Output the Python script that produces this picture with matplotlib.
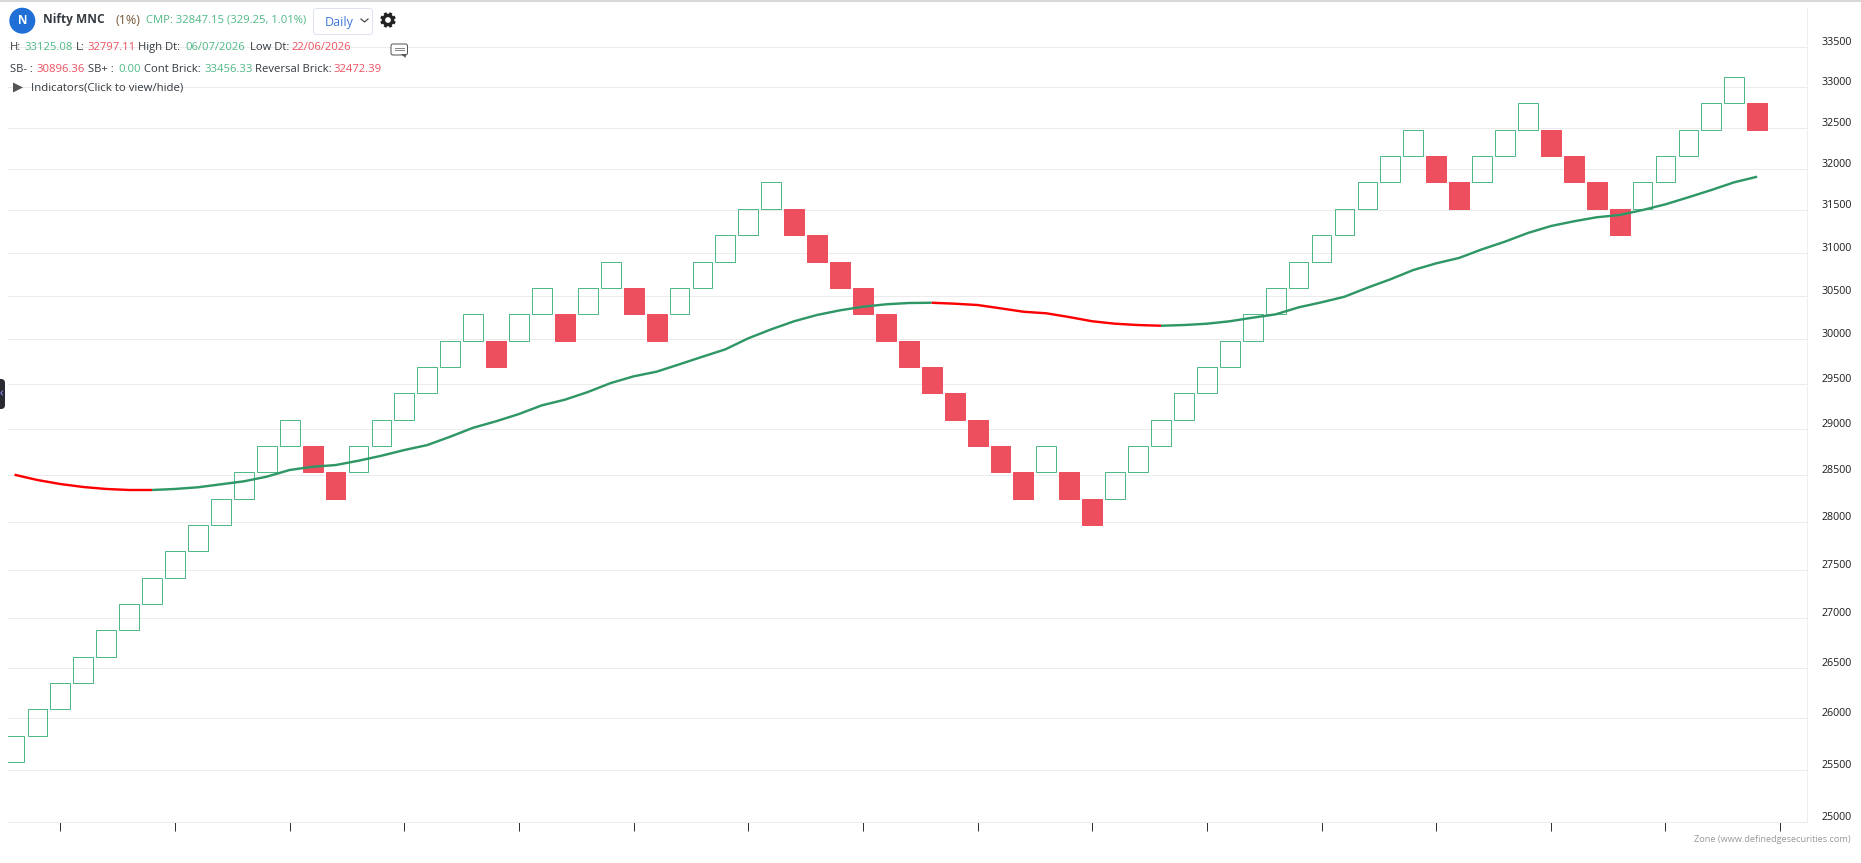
import math

import matplotlib
matplotlib.use('Agg')
from matplotlib import pyplot as plt
from matplotlib.patches import Circle, FancyBboxPatch, Polygon
from matplotlib.ticker import NullLocator
from matplotlib.transforms import ScaledTranslation

# renko brick edges, 1% apart, lowest first
price_levels = [25574.15, 25829.89, 26088.19, 26349.07, 26612.56, 26878.68, 27147.47, 27418.95,
                27693.14, 27970.07, 28249.77, 28532.27, 28817.59, 29105.77, 29396.83, 29690.80,
                29987.71, 30287.59, 30590.47, 30896.37, 31205.34, 31517.39, 31832.56, 32150.88,
                32472.39, 32797.11, 33125.08]

# index into price_levels of each brick's lower edge
brick_level = [0, 1, 2, 3, 4, 5, 6, 7, 8, 9, 10, 11, 12, 11, 10, 11, 12, 13, 14, 15,
               16, 15, 16, 17, 16, 17, 18, 17, 16, 17, 18, 19, 20, 21, 20, 19, 18, 17, 16, 15,
               14, 13, 12, 11, 10, 11, 10, 9, 10, 11, 12, 13, 14, 15, 16, 17, 18, 19, 20, 21,
               22, 23, 22, 21, 22, 23, 24, 23, 22, 21, 20, 21, 22, 23, 24, 25, 24]

# 1 = up (hollow green), 0 = down (solid red)
brick_up = [1, 1, 1, 1, 1, 1, 1, 1, 1, 1, 1, 1, 1, 0, 0, 1, 1, 1, 1, 1,
            1, 0, 1, 1, 0, 1, 1, 0, 0, 1, 1, 1, 1, 1, 0, 0, 0, 0, 0, 0,
            0, 0, 0, 0, 0, 1, 0, 0, 1, 1, 1, 1, 1, 1, 1, 1, 1, 1, 1, 1,
            1, 1, 0, 0, 1, 1, 1, 0, 0, 0, 0, 1, 1, 1, 1, 1, 0]

# moving average, one value per brick
ma_values = [28506, 28449, 28406, 28374, 28353, 28342, 28342, 28353, 28371, 28403,
             28435, 28485, 28557, 28592, 28610, 28657, 28711, 28773, 28827, 28918,
             29016, 29087, 29167, 29263, 29325, 29410, 29510, 29585, 29637, 29720,
             29805, 29888, 30013, 30115, 30207, 30279, 30332, 30373, 30401, 30416,
             30419, 30408, 30393, 30355, 30316, 30298, 30255, 30207, 30179, 30164,
             30156, 30164, 30179, 30207, 30248, 30286, 30366, 30424, 30488, 30592,
             30689, 30797, 30875, 30938, 31039, 31129, 31231, 31313, 31369, 31417,
             31444, 31503, 31571, 31655, 31742, 31835, 31902]
ma_breaks = [0, 6, 40, 50, 76]
ma_colors = ['#ff0000', '#2f9766', '#ff0000', '#2f9766']

y_ticks = [25000, 25500, 26000, 26500, 27000, 27500, 28000, 28500, 29000, 29500,
           30000, 30500, 31000, 31500, 32000, 32500, 33000, 33500]
x_ticks = [2, 7, 12, 17, 22, 27, 32, 37, 42, 47, 52, 57, 62, 67, 72, 77]

GREEN = '#4fb985'
RED = '#ee4f5f'
DARK = '#333a40'
W, H = 1861, 863
PX = 0.72

plt.rcParams['font.family'] = ['Open Sans', 'DejaVu Sans']

fig = plt.figure(figsize=(W / 100, H / 100), dpi=100, facecolor='white')
ax = fig.add_axes([8 / W, (H - 822.2) / H, (1806.7 - 8) / W, (822.2 - 8) / H])
ax.set_yscale('log')

lows = [price_levels[k] for k in brick_level]
highs = [price_levels[k + 1] for k in brick_level]
for i in range(len(brick_level)):
    if brick_up[i]:
        ax.bar(i, highs[i] - lows[i], bottom=lows[i], width=0.86, facecolor='none',
               edgecolor=GREEN, linewidth=1.0 * PX, zorder=2)
    else:
        ax.bar(i, highs[i] - lows[i], bottom=lows[i], width=0.87, facecolor=RED,
               edgecolor=RED, linewidth=1.0 * PX, zorder=2)

for j in range(len(ma_colors)):
    a, b = ma_breaks[j], ma_breaks[j + 1]
    ax.plot(range(a, b + 1), ma_values[a:b + 1], color=ma_colors[j], linewidth=2.4 * PX,
            solid_capstyle='butt', zorder=3)

ax.set_xlim(-0.283, 78.16)
ax.set_ylim(25000, 34001)
ax.set_yticks(y_ticks)
ax.set_yticklabels([str(v) for v in y_ticks])
ax.yaxis.set_minor_locator(NullLocator())
ax.yaxis.tick_right()
ax.set_xticks(x_ticks)
ax.set_xticklabels([])
ax.tick_params(axis='y', length=0, pad=15 * PX, labelsize=7.7, labelcolor='#1c1c1c')
ax.tick_params(axis='x', length=9 * PX, width=1 * PX, color='#333333')
# labels in the original sit a little above their grid line
for lbl in ax.get_yticklabels():
    lbl.set_transform(lbl.get_transform() + ScaledTranslation(0, 6 / 100, fig.dpi_scale_trans))
ax.grid(axis='y', color='#ebebeb', linewidth=1 * PX, zorder=0)
ax.set_axisbelow(True)
for side in ('top', 'left'):
    ax.spines[side].set_visible(False)
ax.spines['right'].set_color('#eeeeee')
ax.spines['bottom'].set_color('#ebebeb')
ax.spines['right'].set_linewidth(1 * PX)
ax.spines['bottom'].set_linewidth(1 * PX)

# page furniture, drawn in pixel coordinates
top = fig.add_axes([0, 0, 1, 1], facecolor='none')
top.set_xlim(0, W)
top.set_ylim(H, 0)
top.axis('off')

top.plot([0, W], [0.8, 0.8], color='#cccccc', linewidth=1.5 * PX)
top.add_patch(Circle((22.3, 20.7), 12.3, color='#1f6fd6'))
top.text(22.3, 20.7, 'N', color='white', fontsize=8.5, fontweight='bold', ha='center', va='center')
top.text(43.3, 20, 'Nifty MNC', color=DARK, fontsize=8.6, fontweight='bold', va='center')
top.text(115, 20, '(1%)', color='#7a5a3a', fontsize=9, va='center')
top.text(145.7, 20, 'CMP: 32847.15 (329.25, 1.01%)', color=GREEN, fontsize=8.15, va='center')

top.add_patch(FancyBboxPatch((316, 11), 54, 21, boxstyle='round,pad=2.5,rounding_size=3',
                             facecolor='white', edgecolor='#dde2ee', linewidth=1 * PX))
top.text(324.3, 22.5, 'Daily', color='#3d78d8', fontsize=9, va='center')
top.plot([361, 364.5, 368], [19, 22, 19], color='#444444', linewidth=1.2 * PX)

# settings gear: ring plus teeth
top.add_patch(Circle((388, 20), 4.6, facecolor='white', edgecolor='#222222', linewidth=3.4 * PX, zorder=3))
for n in range(8):
    ang = n * math.pi / 4 + math.pi / 8
    top.plot([388 + 5 * math.cos(ang), 388 + 7.8 * math.cos(ang)],
             [20 + 5 * math.sin(ang), 20 + 7.8 * math.sin(ang)],
             color='#222222', linewidth=3 * PX, solid_capstyle='butt', zorder=3)

top.add_patch(FancyBboxPatch((392.5, 45.5), 13.5, 8, boxstyle='round,pad=1.5,rounding_size=2',
                             facecolor='white', edgecolor='#555555', linewidth=1 * PX, zorder=3))
top.add_patch(Polygon([(401, 54), (406, 54), (405.5, 58)], facecolor='#555555', edgecolor='none', zorder=3))
top.plot([395, 404], [48, 48], color='#888888', linewidth=1 * PX, zorder=4)
top.plot([395, 404], [50.5, 50.5], color='#888888', linewidth=1 * PX, zorder=4)

row2 = [(10, 'H:', DARK), (24, '33125.08', GREEN), (75.5, 'L:', DARK), (87, '32797.11', RED),
        (138, 'High Dt:', DARK), (185, '06/07/2026', GREEN), (249.5, 'Low Dt:', DARK),
        (292, '22/06/2026', RED)]
row3 = [(10, 'SB- :', DARK), (36.7, '30896.36', RED), (88, 'SB+ :', DARK), (118.5, '0.00', GREEN),
        (143.5, 'Cont Brick:', DARK), (204, '33456.33', GREEN), (255, 'Reversal Brick:', DARK),
        (333, '32472.39', RED)]
for x, s, c in row2:
    top.text(x, 47.2, s, color=c, fontsize=8.15, va='center')
for x, s, c in row3:
    top.text(x, 69.3, s, color=c, fontsize=8.15, va='center')

top.add_patch(Polygon([(13, 82.5), (23, 87.5), (13, 92.5)], facecolor='#555555', edgecolor='none'))
top.text(31, 88.3, 'Indicators(Click to view/hide)', color=DARK, fontsize=8.2, va='center')

top.add_patch(FancyBboxPatch((-8, 381), 11, 26, boxstyle='round,pad=2,rounding_size=4',
                             facecolor='#2a2a32', edgecolor='none'))
top.plot([2.5, 0.8, 2.5], [391, 393, 395], color='#8888ee', linewidth=1 * PX)

top.text(1850.7, 839, 'Zone (www.definedgesecurities.com)', color='#999999', fontsize=6.6,
         ha='right', va='center')

fig.savefig('out.png', dpi=100)
